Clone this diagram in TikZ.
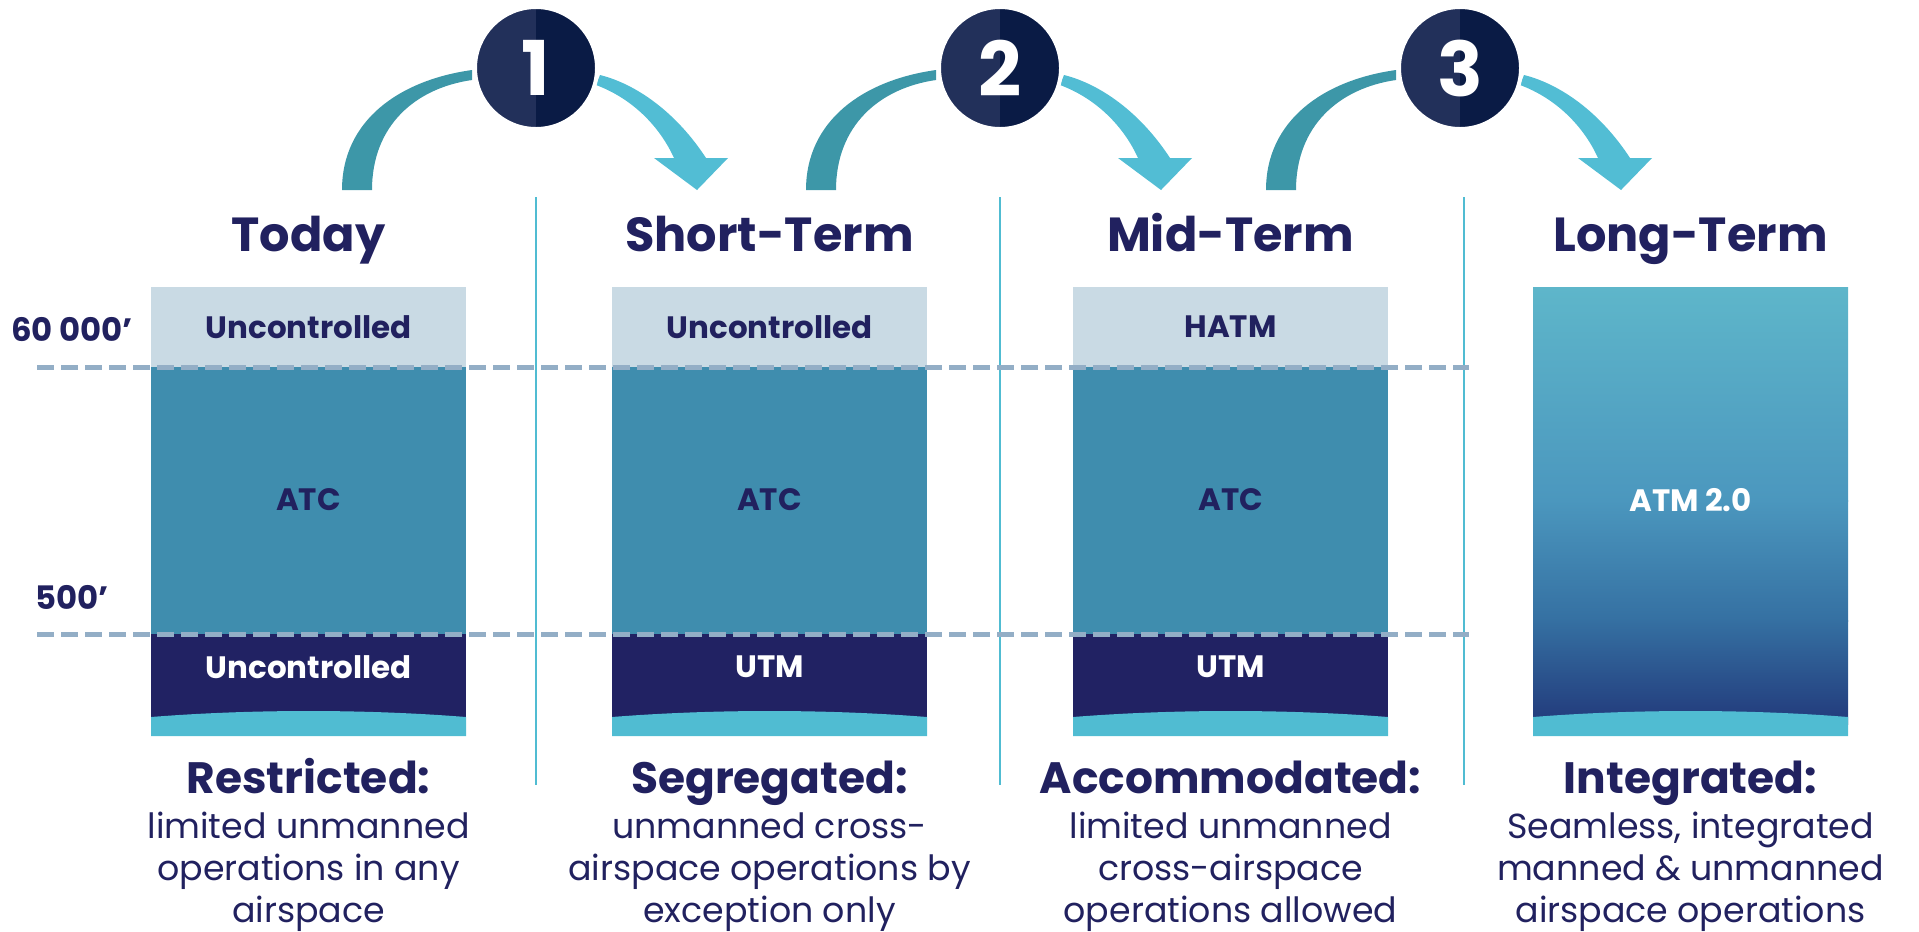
\documentclass[tikz,border=0pt]{standalone}
\usepackage{fontspec}
\setmainfont{Poppins}

\definecolor{navytext}{HTML}{21215F}
\definecolor{skytop}{HTML}{C9DAE4}
\definecolor{atcblue}{HTML}{3F8DAE}
\definecolor{lownavy}{HTML}{212263}
\definecolor{groundcyan}{HTML}{50BCD2}
\definecolor{levelgray}{HTML}{93AEC6}
\definecolor{ringleft}{HTML}{22305A}
\definecolor{ringright}{HTML}{0A1B45}
\definecolor{arcteal}{HTML}{3D97A8}
\definecolor{arccyan}{HTML}{52BDD4}
\definecolor{gradtop}{HTML}{5EB6CA}
\definecolor{gradmid}{HTML}{4B97BE}
\definecolor{gradlow}{HTML}{3570A2}
\definecolor{gradbot}{HTML}{223A7B}

\tikzset{
  phase/.style={anchor=base, text=navytext, font=\bfseries\fontsize{13.6}{17}\selectfont},
  zone/.style={text=navytext, font=\bfseries\fontsize{8.8}{11}\selectfont},
  zonewhite/.style={zone, text=white},
  level/.style={text=navytext, font=\bfseries\fontsize{9.2}{11}\selectfont},
  verdict/.style={anchor=base, text=navytext, font=\bfseries\fontsize{12.5}{15}\selectfont},
  verdicttext/.style={anchor=base, text=navytext, align=center, font=\fontsize{9.9}{11.95}\selectfont},
  levelline/.style={levelgray, line width=0.5mm, dash pattern=on 1.7mm off 0.7mm},
  sepline/.style={groundcyan, line width=0.2mm},
}

\begin{document}
\begin{tikzpicture}[x=0.1mm, y=-0.1mm]
\useasboundingbox (0,0) rectangle (1919,931);

% separators between the phases
\foreach \x in {536,1000,1464}{
	\draw [sepline] (\x,197) -- (\x,785);
	}

% airspace columns
\foreach \i/\x/\up/\low in {1/151/Uncontrolled/Uncontrolled, 2/612/Uncontrolled/UTM, 3/1073/HATM/UTM}{
	\fill [skytop] (\x,287) rectangle (\x+315,367);
	\fill [atcblue] (\x,367) rectangle (\x+315,634);
	\fill [lownavy] (\x,634) rectangle (\x+315,724);
	\fill [groundcyan] (\x,717) .. controls (\x+100,709) and (\x+215,709) .. (\x+315,717) -- (\x+315,736) -- (\x,736) -- cycle;
	\node [zone] (up\i) at (\x+157.5,327) {\up};
	\node [zone] (atc\i) at (\x+157.5,500) {ATC};
	\node [zonewhite] (low\i) at (\x+157.5,667) {\low};
	}

% long term: one shaded block
\shade [top color=gradtop, bottom color=gradmid] (1533,287) rectangle (1848,501);
\shade [top color=gradmid, bottom color=gradlow] (1533,500) rectangle (1848,621);
\shade [top color=gradlow, bottom color=gradbot] (1533,620) rectangle (1848,724);
\fill [groundcyan] (1533,717) .. controls (1633,709) and (1748,709) .. (1848,717) -- (1848,736) -- (1533,736) -- cycle;
\node [zonewhite] (atm) at (1690.5,500) {ATM 2.0};

% altitude levels
\draw [levelline] (37,367) -- (1469,367);
\draw [levelline] (37,634) -- (1469,634);
\node [level] (ft60k) at (72,330) {60 000’};
\node [level] (ft500) at (72,597) {500’};

% step circles with arrows
\foreach \i/\x in {1/536,2/1000,3/1460}{
	\fill [arcteal] (\x-194,190) .. controls (\x-194,120) and (\x-136,80) .. (\x-64,70)
		-- (\x-64,80) .. controls (\x-120,88) and (\x-164,125) .. (\x-164,190) -- cycle;
	\fill [arccyan] (\x+64,75) .. controls (\x+100,84) and (\x+140,112) .. (\x+170,158)
		-- (\x+192,158) -- (\x+161,190) -- (\x+118,158) -- (\x+138,158)
		.. controls (\x+123,125) and (\x+95,98) .. (\x+60,85) -- cycle;
	\begin{scope}
		\clip (\x,68) circle (60);
		\fill [ringleft] (\x-60,8) rectangle (\x,128);
		\fill [ringright] (\x,8) rectangle (\x+60,128);
	\end{scope}
	\draw [white, line width=0.4mm] (\x,68) circle (61);
	\node [text=white, font=\bfseries\fontsize{21.5}{24}\selectfont] (step\i) at (\x,68) {\i};
	}

% phase titles
\node [phase] (today) at (308.5,251) {Today};
\node [phase] (short) at (769.5,251) {Short-Term};
\node [phase] (mid) at (1230.5,251) {Mid-Term};
\node [phase] (long) at (1690.5,251) {Long-Term};

% verdicts
\node [verdict] (restr) at (308.5,793) {Restricted:};
\node [verdict] (segr) at (769.5,793) {Segregated:};
\node [verdict] (accom) at (1230.5,793) {Accommodated:};
\node [verdict] (integ) at (1690.5,793) {Integrated:};
\node [verdicttext] (restrtxt) at (308.5,922) {limited unmanned\\operations in any\\airspace};
\node [verdicttext] (segrtxt) at (769.5,922) {unmanned cross-\\airspace operations by\\exception only};
\node [verdicttext] (accomtxt) at (1230.5,922) {limited unmanned\\cross-airspace\\operations allowed};
\node [verdicttext] (integtxt) at (1690.5,922) {Seamless, integrated\\manned \& unmanned\\airspace operations};

\end{tikzpicture}
\end{document}
